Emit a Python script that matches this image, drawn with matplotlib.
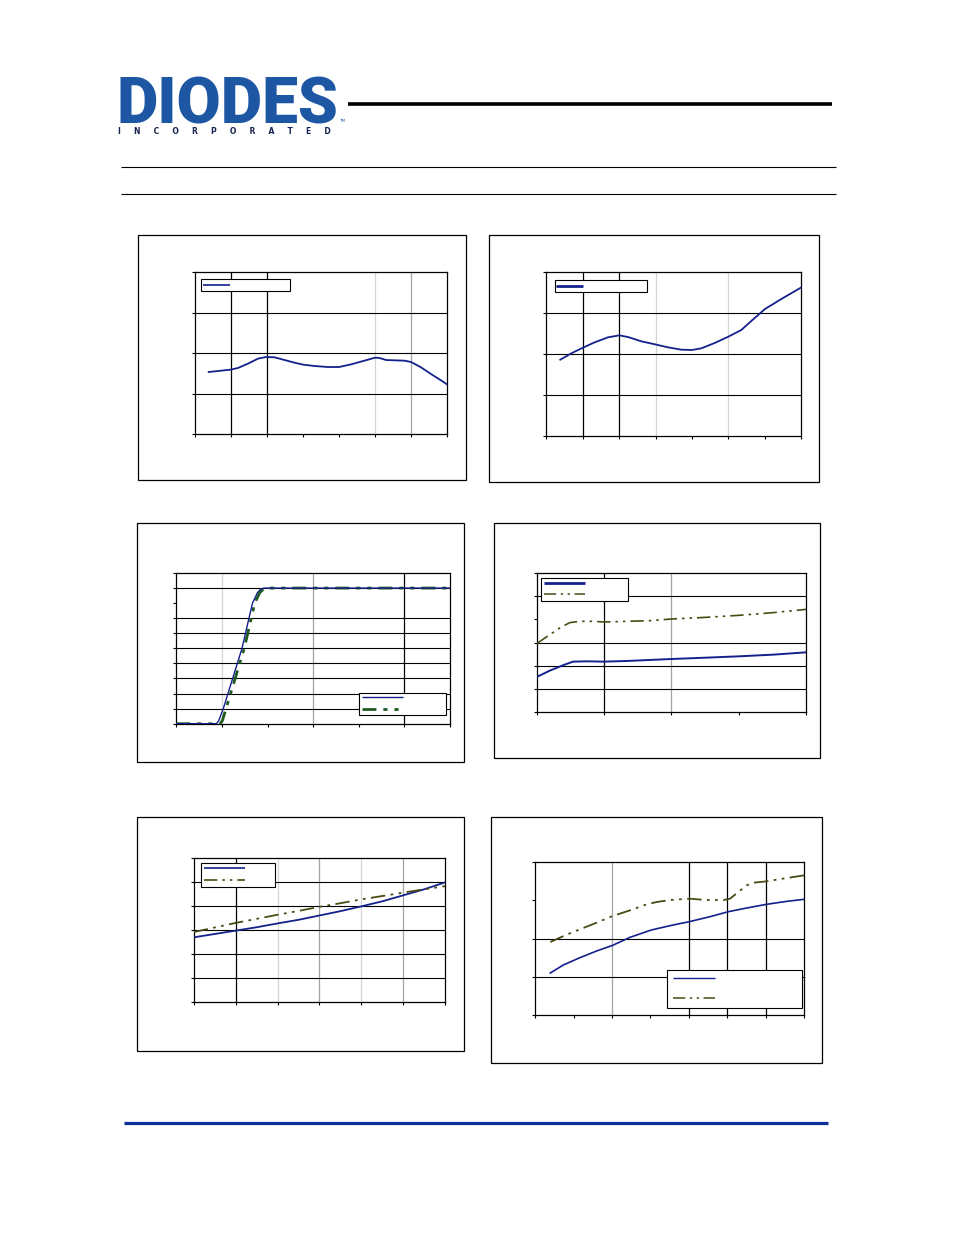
import matplotlib
matplotlib.use('Agg')
import matplotlib.pyplot as plt
from matplotlib.patches import Rectangle
from matplotlib.lines import Line2D

# ---------------- data ----------------
# Chart 1 (top left)
c1_x = [0.388, 0.988, 1.200, 1.477, 1.755, 1.976, 2.216, 2.493, 2.770, 3.010, 3.324, 3.694,
        4.008, 4.340, 4.710, 5.005, 5.125, 5.310, 5.541, 5.818, 6.002, 6.279, 6.556, 6.833, 7.000]
c1_y = [1.531, 1.588, 1.630, 1.737, 1.860, 1.901, 1.893, 1.827, 1.761, 1.712, 1.679, 1.654,
        1.654, 1.720, 1.811, 1.885, 1.877, 1.827, 1.819, 1.811, 1.778, 1.646, 1.481, 1.325, 1.226]

# Chart 2 (top right)
c2_x = [0.384, 0.686, 1.006, 1.327, 1.693, 2.004, 2.242, 2.608, 2.983, 3.340, 3.706, 3.998,
        4.255, 4.621, 4.996, 5.353, 5.627, 6.002, 6.451, 7.000]
c2_y = [1.862, 2.016, 2.154, 2.283, 2.405, 2.453, 2.413, 2.308, 2.235, 2.162, 2.105, 2.097,
        2.138, 2.267, 2.421, 2.583, 2.802, 3.093, 3.336, 3.619]

# Chart 3 (middle left)
c3a_x = [0, 0.88, 0.93, 1.03, 1.44, 1.67, 1.78, 1.86, 1.93, 6]
c3a_y = [0, 0, 0.2, 1, 5, 8, 8.7, 8.95, 9, 9]
c3b_x = [0, 0.96, 1.01, 1.09, 1.49, 1.72, 1.83, 1.92, 2.0, 6]
c3b_y = [0, 0, 0.2, 1, 5, 8, 8.7, 8.95, 9, 9]

# Chart 4 (middle right)
c4a_x = [0, 0.193, 0.415, 0.539, 0.737, 1.004, 1.330, 2.002, 2.517, 3.001, 3.506, 4.000]
c4a_y = [1.521, 1.794, 2.053, 2.182, 2.196, 2.182, 2.210, 2.296, 2.354, 2.411, 2.483, 2.584]
c4b_x = [0, 0.143, 0.341, 0.490, 0.638, 0.836, 1.004, 1.330, 1.676, 2.002, 2.517, 3.001, 3.506, 4.000]
c4b_y = [2.957, 3.244, 3.631, 3.861, 3.918, 3.918, 3.890, 3.918, 3.947, 4.019, 4.091, 4.177, 4.292, 4.435]

# Chart 5 (bottom left)
c5_x = [0, 0.5, 1, 1.5, 2, 2.5, 3, 3.5, 4, 4.5, 5, 5.5, 6]
c5a_y = [2.70, 2.84, 2.98, 3.12, 3.28, 3.43, 3.61, 3.79, 3.99, 4.20, 4.45, 4.70, 4.99]
c5b_y = [2.92, 3.11, 3.30, 3.47, 3.64, 3.80, 3.97, 4.12, 4.28, 4.42, 4.56, 4.70, 4.83]

# Chart 6 (bottom right)
c6a_x = [0.391, 0.730, 1.164, 1.598, 2.015, 2.466, 3.022, 3.509, 4.012, 4.551, 5.029, 5.506, 6.019, 6.548, 7.000]
c6a_y = [1.102, 1.310, 1.501, 1.675, 1.822, 2.030, 2.221, 2.334, 2.438, 2.568, 2.698, 2.794, 2.889, 2.967, 3.020]
c6b_x = [0.391, 0.816, 1.164, 1.598, 2.015, 2.466, 2.901, 3.161, 3.509, 4.012, 4.464, 4.898, 5.072,
         5.289, 5.506, 5.680, 6.019, 6.548, 7.000]
c6b_y = [1.909, 2.100, 2.239, 2.412, 2.586, 2.733, 2.889, 2.950, 3.002, 3.037, 3.002, 3.002, 3.037,
         3.210, 3.384, 3.453, 3.488, 3.575, 3.644]

logo_text = "DIODES"
logo_sub = "INCORPORATED"

# ---------------- styles ----------------
BLUE = '#14208c'
OLIVE = '#4a4a14'
DGREEN = '#1f5a1f'
LIGHT = '#d6d6d6'
GRAY = '#a3a3a3'
DASH = (0, (8, 3, 1.5, 3, 1.5, 3))

W, H = 954, 1235
fig = plt.figure(figsize=(W / 100, H / 100), dpi=100)


def fx(x):
    return x / W


def fy(y):
    return 1 - y / H


def frect(x0, y0, x1, y1, lw=0.8, z=1, fc='white'):
    fig.patches.append(Rectangle((fx(x0), fy(y1)), (x1 - x0) / W, (y1 - y0) / H,
                                 transform=fig.transFigure, lw=lw, ec='black', fc=fc, zorder=z))


def fline(x0, x1, y, color, lw, ls='-', z=2):
    fig.lines.append(Line2D([fx(x0), fx(x1)], [fy(y), fy(y)], transform=fig.transFigure,
                            color=color, lw=lw, ls=ls, zorder=z, solid_capstyle='butt'))


def plot_ax(x0, y0, x1, y1, nx, ny, vgrid, hgrid):
    ax = fig.add_axes([fx(x0), fy(y1), (x1 - x0) / W, (y1 - y0) / H])
    ax.set_xlim(0, nx)
    ax.set_ylim(0, ny)
    ax.set_xticks(range(nx + 1))
    ax.set_yticks(range(ny + 1))
    ax.tick_params(length=2.5, width=0.8, direction='out', labelbottom=False, labelleft=False)
    for s in ax.spines.values():
        s.set_linewidth(0.9)
        s.set_color('black')
    for xv, c in vgrid:
        ax.axvline(xv, color=c, lw=0.9, zorder=1)
    for yv in hgrid:
        ax.axhline(yv, color='black', lw=0.8, zorder=1)
    return ax


# outer chart boxes
for b in [(138, 235, 466, 480), (489, 235, 819, 482), (137, 523, 464, 762),
          (494, 523, 820, 758), (137, 817, 464, 1051), (491, 817, 822, 1063)]:
    frect(*b, lw=0.9, z=-1, fc='none')

# Chart 1
ax = plot_ax(194.7, 272, 447, 434, 7, 4, [(1, 'black'), (2, 'black'), (5, LIGHT), (6, GRAY)], [1, 2, 3])
ax.plot(c1_x, c1_y, color=BLUE, lw=1.3, zorder=3)
frect(201.3, 279.3, 289.7, 291.3)
fline(203, 230.5, 285.3, BLUE, 1.2)

# Chart 2
ax = plot_ax(546.3, 271.7, 801.3, 436.3, 7, 4, [(1, 'black'), (2, 'black'), (3, LIGHT), (5, LIGHT)], [1, 2, 3])
ax.plot(c2_x, c2_y, color=BLUE, lw=1.3, zorder=3)
frect(554.7, 280.3, 647.3, 291.7)
fline(556.3, 583, 285.8, BLUE, 2.0)

# Chart 3
ax = plot_ax(176.3, 573, 450, 723.7, 6, 10, [(1, LIGHT), (3, GRAY), (5, 'black')], [1, 2, 3, 4, 5, 6, 7, 9])
ax.plot(c3b_x, c3b_y, color=DGREEN, lw=2.0, ls=(0, (5, 2.5, 1.5, 2.5, 1.5, 2.5)), zorder=3)
ax.plot(c3a_x, c3a_y, color=BLUE, lw=1.0, zorder=4)
frect(359.3, 692.7, 446, 715.3)
fline(361.7, 402.7, 697, BLUE, 1.0)
fline(361.7, 402.7, 709.3, DGREEN, 2.0, ls=(0, (5, 2.5, 1.5, 2.5, 1.5, 2.5)))

# Chart 4
ax = plot_ax(536.7, 573, 806.3, 712.3, 4, 6, [(1, 'black'), (2, GRAY)], [1, 2, 3, 5])
ax.plot(c4a_x, c4a_y, color=BLUE, lw=1.4, zorder=3)
ax.plot(c4b_x, c4b_y, color=OLIVE, lw=1.2, ls=DASH, zorder=3)
frect(541.3, 578.3, 628.3, 601.3)
fline(543.7, 585.3, 583, BLUE, 2.0)
fline(543.7, 585.3, 593.7, OLIVE, 1.1, ls=DASH)

# Chart 5
ax = plot_ax(193.7, 858, 445.3, 1002.3, 6, 6,
             [(1, 'black'), (2, LIGHT), (3, GRAY), (4, LIGHT), (5, GRAY)], [1, 2, 3, 4, 5])
ax.plot(c5_x, c5a_y, color=BLUE, lw=1.3, zorder=3)
ax.plot(c5_x, c5b_y, color=OLIVE, lw=1.3, ls=DASH, zorder=3)
frect(201.3, 863.3, 275.3, 887)
fline(203.7, 245, 868.3, BLUE, 1.2)
fline(203.7, 245, 880, OLIVE, 1.2, ls=DASH)

# Chart 6
ax = plot_ax(535.3, 861.7, 804, 1015.3, 7, 4, [(2, GRAY), (4, 'black'), (5, 'black'), (6, 'black')], [1, 2])
ax.plot(c6a_x, c6a_y, color=BLUE, lw=1.2, zorder=3)
ax.plot(c6b_x, c6b_y, color=OLIVE, lw=1.3, ls=DASH, zorder=3)
frect(667.3, 970.3, 802.3, 1008.3)
fline(673.3, 715, 978.3, BLUE, 1.0)
fline(673.3, 715, 997.7, OLIVE, 1.1, ls=DASH)

# ---------------- header / footer ----------------
fig.text(fx(117), fy(124), logo_text, fontsize=46, fontweight='black', family='Roboto',
         color='#1d56a3', ha='left', va='baseline')
fig.text(fx(118), fy(133.5), "     ".join(logo_sub), fontsize=5.5, fontweight='bold',
         family='DejaVu Sans', color='#1a2450', ha='left', va='baseline')
fig.text(fx(339), fy(121.5), "TM", fontsize=3, color='#1d56a3', ha='left', va='baseline')

fline(348, 832, 104, 'black', 2.6)
fline(121, 836, 166.7, 'black', 0.8)
fline(121, 836, 194.3, 'black', 0.8)
fline(124, 828, 1122.5, '#0a2f96', 2.3)

fig.savefig('out.png', dpi=100)
